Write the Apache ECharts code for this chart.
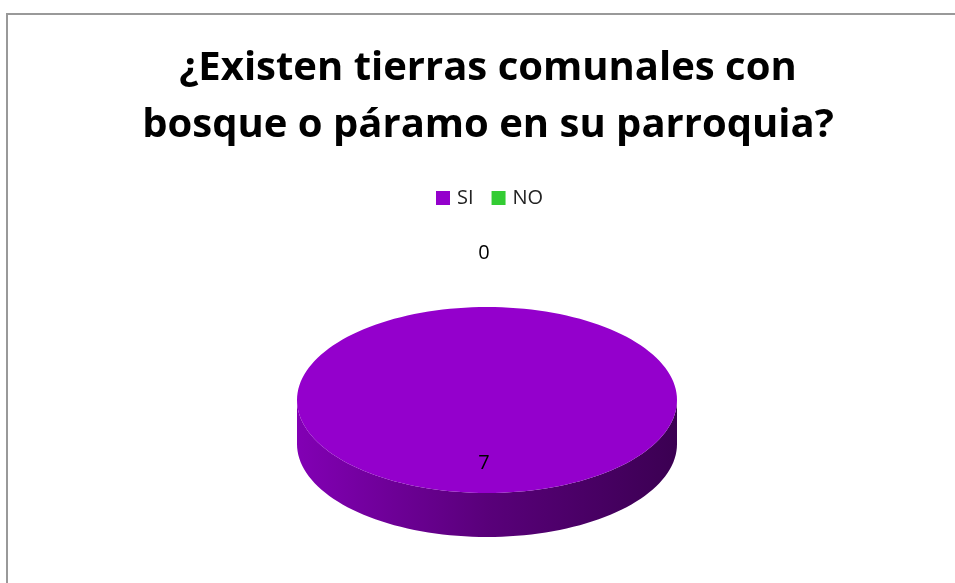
<!DOCTYPE html>
<html><head><meta charset="utf-8">
<script src="https://cdn.jsdelivr.net/npm/echarts@6/dist/echarts.min.js"></script>
<style>html,body{margin:0;padding:0;background:#fff}#c{width:955px;height:583px}</style>
</head><body><div id="c"></div>
<script>
var categories = ['SI', 'NO'];
var values = [7, 0];
var colors = ['#9400cc', '#33cc33'];
var titleText = '¿Existen tierras comunales con\nbosque o páramo en su parroquia?';

var CX = 487, CY = 400, RX = 190, RY = 93, H = 44;
var total = values.reduce(function (a, b) { return a + b; }, 0);

function shade(hex, f) {
  var n = parseInt(hex.slice(1), 16);
  var r = Math.round(((n >> 16) & 255) * f), g = Math.round(((n >> 8) & 255) * f), b = Math.round((n & 255) * f);
  return 'rgb(' + r + ',' + g + ',' + b + ')';
}
function pt(t, dy) { return [CX + RX * Math.cos(t), CY + (dy || 0) + RY * Math.sin(t)]; }

function makeRender(idx) {
  return function (params, api) {
    var before = 0;
    for (var i = 0; i < idx; i++) before += values[i];
    var v = api.value(0);
    var a0 = -Math.PI / 2 + 2 * Math.PI * before / total;
    var a1 = a0 + 2 * Math.PI * v / total;
    var children = [];
    var col = colors[idx];
    if (v > 0) {
      var segs = [];
      for (var k = -1; k <= 1; k++) {
        var s = Math.max(a0, k * 2 * Math.PI), e = Math.min(a1, k * 2 * Math.PI + Math.PI);
        if (e > s) segs.push([s, e]);
      }
      segs.forEach(function (sg) {
        var pts = [], n = 80, j;
        for (j = 0; j <= n; j++) pts.push(pt(sg[0] + (sg[1] - sg[0]) * j / n, 0));
        for (j = n; j >= 0; j--) pts.push(pt(sg[0] + (sg[1] - sg[0]) * j / n, H));
        children.push({
          type: 'polygon', shape: { points: pts },
          style: {
            fill: new echarts.graphic.LinearGradient(0, 0, 1, 0, [
              { offset: 0, color: shade(col, 0.88) },
              { offset: 0.5, color: shade(col, 0.6) },
              { offset: 1, color: shade(col, 0.4) }
            ])
          }
        });
      });
      var tp = [[CX, CY]], m = 160;
      for (var j2 = 0; j2 <= m; j2++) tp.push(pt(a0 + (a1 - a0) * j2 / m, 0));
      children.push({ type: 'polygon', shape: { points: tp }, style: { fill: col } });
    }
    var mid = (a0 + a1) / 2;
    var lf = v > 0 ? 0.68 : 1.58;
    children.push({
      type: 'text', z2: 10,
      style: {
        text: String(v), x: CX - 3 + RX * lf * Math.cos(mid), y: CY + RY * lf * Math.sin(mid),
        align: 'center', verticalAlign: 'middle',
        font: '20px "Open Sans", sans-serif', fill: '#000'
      }
    });
    return { type: 'group', children: children };
  };
}

var series = categories.map(function (name, i) {
  return {
    type: 'custom', name: name, coordinateSystem: 'none',
    itemStyle: { color: colors[i] },
    data: [[values[i]]],
    renderItem: makeRender(i),
    silent: true
  };
});

var chart = echarts.init(document.getElementById('c'));
chart.setOption({
  animation: false,
  color: colors,
  title: {
    text: titleText, left: 488, textAlign: 'center', top: 40, padding: 0,
    textStyle: { fontFamily: '"Open Sans", sans-serif', fontWeight: 'bold', fontSize: 40, lineHeight: 57, color: '#000' }
  },
  legend: {
    data: categories, left: 431, top: 183, icon: 'rect', itemWidth: 14, itemHeight: 14, itemGap: 18,
    textStyle: { fontFamily: '"Open Sans", sans-serif', fontSize: 20, color: '#222', padding: [0, 0, 0, 2] },
    selectedMode: false
  },
  graphic: [{
    type: 'rect', silent: true, z: -1,
    shape: { x: 7, y: 14, width: 1100, height: 1000 },
    style: { fill: 'none', stroke: '#999', lineWidth: 2 }
  }],
  series: series
});
</script></body></html>
